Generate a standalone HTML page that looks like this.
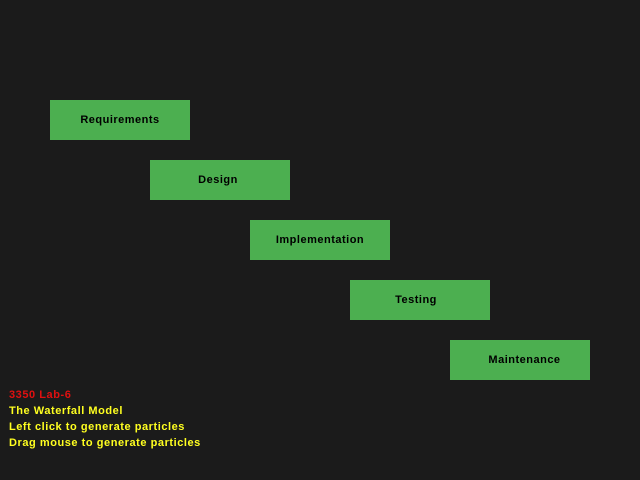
<!DOCTYPE html>
<html><head><style>
html,body{margin:0;padding:0;background:#1b1b1b;width:640px;height:480px;overflow:hidden;position:relative;font-family:"Liberation Sans",sans-serif;}
.b{position:absolute;width:140px;height:40px;background:#4caf50;color:#000;font-weight:bold;font-size:11px;letter-spacing:0.5px;display:flex;align-items:center;justify-content:center;box-sizing:border-box;}
.t{position:absolute;left:9px;font-weight:bold;font-size:11px;line-height:16px;letter-spacing:0.55px;}
</style></head><body>
<div class="b" style="left:50px;top:100px">Requirements</div>
<div class="b" style="left:150px;top:160px;padding-right:4px">Design</div>
<div class="b" style="left:250px;top:220px">Implementation</div>
<div class="b" style="left:350px;top:280px;padding-right:8px">Testing</div>
<div class="b" style="left:450px;top:340px;padding-left:9px">Maintenance</div>
<div class="t" style="top:387px;color:#e01010">3350 Lab-6</div>
<div class="t" style="top:403px;color:#ffff20">The Waterfall Model</div>
<div class="t" style="top:419px;color:#ffff20">Left click to generate particles</div>
<div class="t" style="top:435px;color:#ffff20">Drag mouse to generate particles</div>
</body></html>
